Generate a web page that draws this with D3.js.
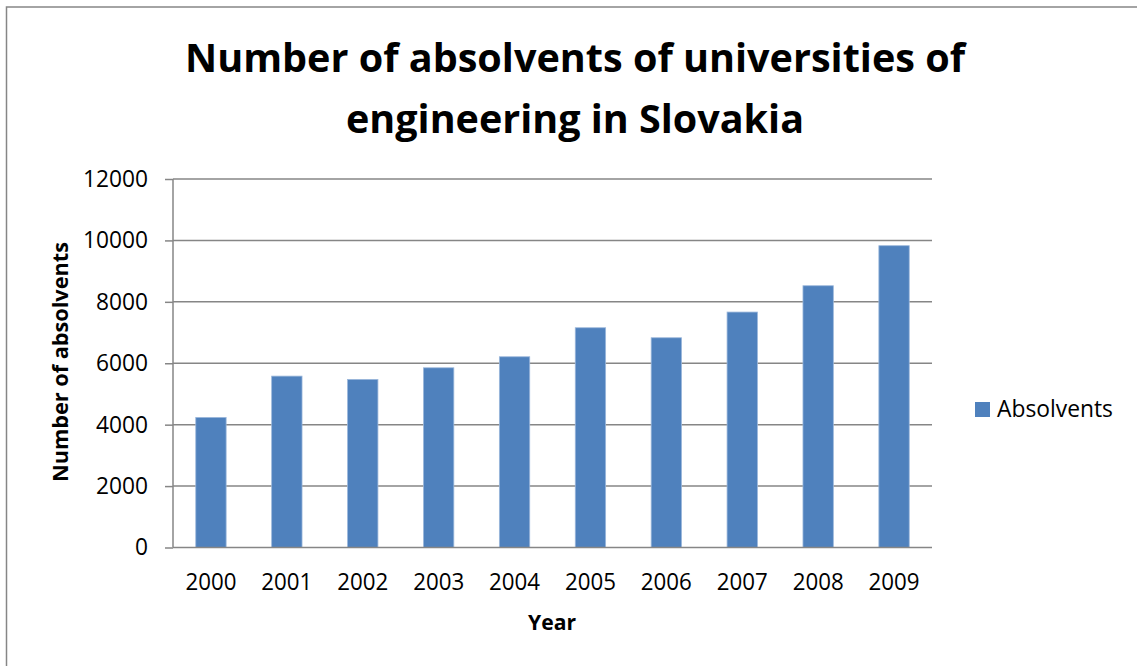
<!DOCTYPE html>
<html>
<head>
<meta charset="utf-8">
<script src="https://cdn.jsdelivr.net/npm/d3@7"></script>
<style>
  html, body { margin: 0; padding: 0; background: #fff; }
  svg { display: block; }
  text { font-family: "Open Sans", "Noto Sans", sans-serif; fill: #000; }
</style>
</head>
<body>
<svg id="chart" width="1137" height="666"></svg>
<script>
const years = ["2000","2001","2002","2003","2004","2005","2006","2007","2008","2009"];
const absolvents = [4236, 5581, 5474, 5852, 6211, 7156, 6830, 7667, 8524, 9828];
const yTicks = [0, 2000, 4000, 6000, 8000, 10000, 12000];
const titleLines = ["Number of absolvents of universities of", "engineering in Slovakia"];
const seriesName = "Absolvents";
const xTitle = "Year";
const yTitle = "Number of absolvents";

const W = 1137, H = 666;
const svg = d3.select("#chart");
const plot = { left: 173, right: 932, top: 179, bottom: 547.5 };
const gridColor = "#868686";
const barColor = "#4F81BD";

// outer frame
svg.append("rect").attr("x", 6.5).attr("y", 7).attr("width", W + 10).attr("height", H + 10)
  .attr("fill", "none").attr("stroke", gridColor).attr("stroke-width", 1.5);

const x = d3.scaleBand().domain(years).range([plot.left, plot.right]).paddingInner(0.6).paddingOuter(0.3);
const y = d3.scaleLinear().domain([0, 12000]).range([plot.bottom, plot.top]);

// gridlines
svg.append("g").selectAll("line").data(yTicks.filter(d => d > 0)).join("line")
  .attr("x1", plot.left).attr("x2", plot.right)
  .attr("y1", d => y(d)).attr("y2", d => y(d))
  .attr("stroke", gridColor).attr("stroke-width", 1.5);

// y axis
const yAxis = svg.append("g").attr("transform", `translate(${plot.left},0)`)
  .call(d3.axisLeft(y).tickValues(yTicks).tickSize(8).tickPadding(17).tickFormat(d3.format("d")));
yAxis.select(".domain").attr("stroke", gridColor).attr("stroke-width", 1.5).attr("d", `M0,${plot.top}V${plot.bottom}`);
yAxis.selectAll(".tick line").attr("stroke", gridColor).attr("stroke-width", 1.5);
yAxis.selectAll(".tick text").style("font-size", "23px").attr("fill", "#000")
  .attr("textLength", d => String(d).length * 13).attr("lengthAdjust", "spacingAndGlyphs");

// bars
svg.append("g").selectAll("rect").data(years).join("rect")
  .attr("x", d => x(d)).attr("width", x.bandwidth())
  .attr("y", (d, i) => y(absolvents[i])).attr("height", (d, i) => y(0) - y(absolvents[i]))
  .attr("fill", barColor).attr("stroke", "#9BB7DB").attr("stroke-width", 0.8);

// x axis
const xAxis = svg.append("g").attr("transform", `translate(0,${plot.bottom})`)
  .call(d3.axisBottom(x).tickSize(0).tickPadding(26));
xAxis.select(".domain").attr("stroke", gridColor).attr("stroke-width", 1.5).attr("d", `M${plot.left},0H${plot.right}`);
xAxis.selectAll(".tick text").style("font-size", "23px").attr("fill", "#000")
  .attr("textLength", 51).attr("lengthAdjust", "spacingAndGlyphs");

// title
svg.append("g").selectAll("text").data(titleLines).join("text")
  .attr("x", 575).attr("y", (d, i) => 72 + i * 61)
  .attr("text-anchor", "middle").style("font-size", "40px").style("font-weight", "700")
  .attr("textLength", (d, i) => i === 0 ? 780 : 458).attr("lengthAdjust", "spacingAndGlyphs")
  .text(d => d);

// axis titles
svg.append("text").attr("x", 552).attr("y", 630).attr("text-anchor", "middle")
  .style("font-size", "21px").style("font-weight", "700")
  .attr("textLength", 48).attr("lengthAdjust", "spacingAndGlyphs").text(xTitle);

svg.append("text").attr("transform", `translate(68,362) rotate(-90)`).attr("text-anchor", "middle")
  .style("font-size", "21px").style("font-weight", "700")
  .attr("textLength", 240).attr("lengthAdjust", "spacingAndGlyphs").text(yTitle);

// legend
const lg = svg.append("g").attr("transform", "translate(975,402)");
lg.append("rect").attr("width", 15).attr("height", 15).attr("fill", barColor);
lg.append("text").attr("x", 22).attr("y", 15).style("font-size", "23px")
  .attr("textLength", 116).attr("lengthAdjust", "spacingAndGlyphs").text(seriesName);
</script>
</body>
</html>
